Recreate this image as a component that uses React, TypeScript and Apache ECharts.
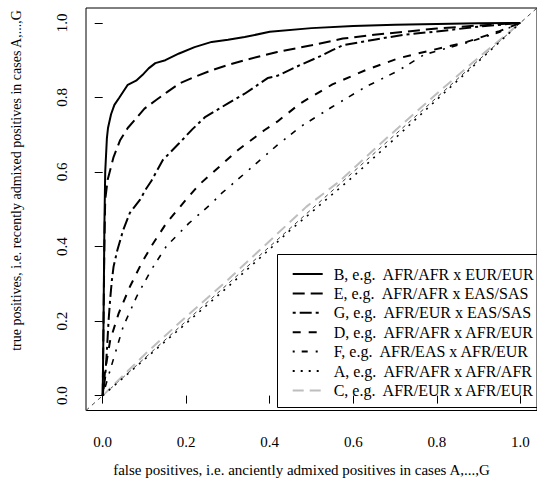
import React, { useEffect, useRef } from "react";
import * as echarts from "echarts";

const xTicks = [0, 0.2, 0.4, 0.6, 0.8, 1.0];
const yTicks = [0, 0.2, 0.4, 0.6, 0.8, 1.0];

const seriesNames = [
  "B, e.g.  AFR/AFR x EUR/EUR",
  "E, e.g.  AFR/AFR x EAS/SAS",
  "G, e.g.  AFR/EUR x EAS/SAS",
  "D, e.g.  AFR/AFR x AFR/EUR",
  "F, e.g.  AFR/EAS x AFR/EUR",
  "A, e.g.  AFR/AFR x AFR/AFR",
  "C, e.g.  AFR/EUR x AFR/EUR",
];

const curveB = [
  [0, 0], [0.002, 0.2], [0.004, 0.45], [0.006, 0.6], [0.01, 0.69], [0.0127, 0.718],
  [0.02, 0.755], [0.028, 0.78], [0.04, 0.8], [0.06, 0.834], [0.08, 0.845], [0.095, 0.86],
  [0.11, 0.878], [0.126, 0.892], [0.15, 0.9], [0.183, 0.918], [0.22, 0.935], [0.261, 0.949],
  [0.3, 0.955], [0.34, 0.962], [0.4, 0.976], [0.5, 0.986], [0.6, 0.992], [0.7, 0.995],
  [0.8, 0.997], [0.9, 0.999], [1, 1],
];
const curveE = [
  [0, 0], [0.002, 0.2], [0.004, 0.4], [0.006, 0.525], [0.012, 0.58], [0.026, 0.64],
  [0.042, 0.686], [0.06, 0.718], [0.081, 0.745], [0.1, 0.77], [0.128, 0.793], [0.155, 0.815],
  [0.183, 0.837], [0.22, 0.855], [0.261, 0.873], [0.3, 0.887], [0.34, 0.9], [0.418, 0.922],
  [0.5, 0.94], [0.575, 0.958], [0.65, 0.968], [0.8, 0.985], [0.9, 0.993], [1, 1],
];
const curveG = [
  [0, 0], [0.006, 0.05], [0.01, 0.12], [0.014, 0.2], [0.018, 0.26], [0.022, 0.31],
  [0.026, 0.346], [0.035, 0.39], [0.049, 0.444], [0.065, 0.49], [0.089, 0.525], [0.104, 0.555],
  [0.116, 0.575], [0.144, 0.632], [0.183, 0.677], [0.215, 0.715], [0.246, 0.748], [0.3, 0.784],
  [0.34, 0.81], [0.395, 0.852], [0.418, 0.858], [0.473, 0.887], [0.52, 0.91], [0.55, 0.927],
  [0.575, 0.94], [0.65, 0.955], [0.72, 0.968], [0.8, 0.977], [0.9, 0.99], [1, 1],
];
const curveD = [
  [0, 0], [0.006, 0.069], [0.018, 0.149], [0.038, 0.22], [0.065, 0.292], [0.093, 0.355],
  [0.116, 0.4], [0.152, 0.462], [0.199, 0.525], [0.23, 0.565], [0.261, 0.596], [0.324, 0.659],
  [0.387, 0.712], [0.418, 0.735], [0.473, 0.784], [0.55, 0.835], [0.629, 0.873], [0.708, 0.905],
  [0.77, 0.922], [0.872, 0.949], [0.95, 0.978], [1, 1],
];
const curveF = [
  [0, 0], [0.018, 0.069], [0.049, 0.185], [0.081, 0.265], [0.116, 0.337], [0.152, 0.4],
  [0.206, 0.462], [0.261, 0.516], [0.285, 0.543], [0.34, 0.596], [0.418, 0.672], [0.473, 0.721],
  [0.55, 0.775], [0.629, 0.828], [0.708, 0.872], [0.77, 0.915], [0.872, 0.947], [0.95, 0.975],
  [1, 1],
];
const curveA = [
  [0, 0], [0.1, 0.097], [0.2, 0.194], [0.3, 0.292], [0.4, 0.393], [0.449, 0.444],
  [0.5, 0.492], [0.6, 0.588], [0.7, 0.69], [0.8, 0.794], [0.9, 0.897], [1, 1],
];
const curveC = [
  [0, 0], [0.104, 0.114], [0.2, 0.212], [0.3, 0.311], [0.394, 0.409], [0.488, 0.507],
  [0.567, 0.575], [0.669, 0.68], [0.81, 0.82], [0.9, 0.907], [1, 1],
];
const diagonal = [[-0.04, -0.04], [1.04, 1.04]];

const xTitle = "false positives, i.e. anciently admixed positives in cases A,...,G";
const yTitle = "true positives, i.e. recently admixed positives in cases A,...,G";

const FONT = "Liberation Serif";

export default function App() {
  const ref = useRef<HTMLDivElement>(null);
  useEffect(() => {
    document.body.style.margin = "0";
    const chart = echarts.init(ref.current!, null, { renderer: "svg" });
    const curves = [curveB, curveE, curveG, curveD, curveF, curveA, curveC];
    const styles: any[] = [
      { color: "#000", width: 2, type: "solid" },
      { color: "#000", width: 2, type: [12, 6] },
      { color: "#000", width: 2, type: [3, 4, 12, 4] },
      { color: "#000", width: 2, type: [8, 8] },
      { color: "#000", width: 1.6, type: [2, 7, 6, 8] },
      { color: "#000", width: 1.6, type: [2, 6] },
      { color: "#bebebe", width: 2, type: [11, 6] },
    ];
    const series: any[] = curves.map((d, i) => ({
      name: seriesNames[i],
      type: "line",
      data: d,
      showSymbol: false,
      symbol: "none",
      lineStyle: { ...styles[i], cap: "butt" },
      itemStyle: { color: styles[i].color },
      z: 10 - i,
    }));
    series.push({
      name: "diag",
      type: "line",
      data: diagonal,
      showSymbol: false,
      symbol: "none",
      lineStyle: { color: "#444", width: 1, type: [4, 4] },
      z: 1,
    });
    chart.setOption({
      animation: false,
      textStyle: { fontFamily: FONT, fontSize: 15, color: "#000" },
      grid: {
        left: 86,
        top: 8,
        right: -7,
        bottom: 78.5,
        show: true,
        borderColor: "#000",
        borderWidth: 1,
        backgroundColor: "transparent",
      },
      xAxis: {
        type: "value",
        min: -0.04,
        max: 1.04,
        splitLine: { show: false },
        axisLine: { show: false },
        axisTick: { show: true, length: 8, customValues: xTicks, lineStyle: { color: "#000" } },
        axisLabel: {
          customValues: xTicks,
          formatter: (v: number) => v.toFixed(1),
          margin: 24,
          color: "#000",
          fontFamily: FONT,
          fontSize: 15,
        },
      },
      yAxis: {
        type: "value",
        min: -0.04,
        max: 1.04,
        splitLine: { show: false },
        axisLine: { show: false },
        axisTick: { show: true, length: 8, customValues: yTicks, lineStyle: { color: "#000" } },
        axisLabel: {
          customValues: yTicks,
          formatter: (v: number) => v.toFixed(1),
          rotate: 90,
          margin: 17,
          color: "#000",
          fontFamily: FONT,
          fontSize: 15,
        },
      },
      legend: {
        data: seriesNames,
        orient: "vertical",
        left: 277,
        top: 254,
        itemWidth: 30,
        itemHeight: 16,
        itemGap: 3.4,
        padding: [12, 0, 10, 14.7],
        borderWidth: 0,
        selectedMode: false,
        itemStyle: { opacity: 0 },
        textStyle: {
          color: "#000",
          fontFamily: FONT,
          fontSize: 16,
          lineHeight: 16,
          padding: [0, 0, 0, 6],
        },
      },
      graphic: [
        {
          type: "rect",
          shape: { x: 277.5, y: 254.5, width: 290, height: 153 },
          style: { fill: "none", stroke: "#000", lineWidth: 1 },
          z: 100,
        },
        {
          type: "text",
          x: 301.5,
          y: 470,
          style: {
            text: xTitle,
            fill: "#000",
            fontFamily: FONT,
            fontSize: 15,
            textAlign: "center",
            textVerticalAlign: "middle",
          },
        },
        {
          type: "text",
          x: 16,
          y: 180.5,
          rotation: Math.PI / 2,
          style: {
            text: yTitle,
            fill: "#000",
            fontFamily: FONT,
            fontSize: 14,
            textAlign: "center",
            textVerticalAlign: "middle",
          },
        },
      ],
      series,
    });
    return () => chart.dispose();
  }, []);
  return <div ref={ref} style={{ width: 537, height: 489 }} />;
}
